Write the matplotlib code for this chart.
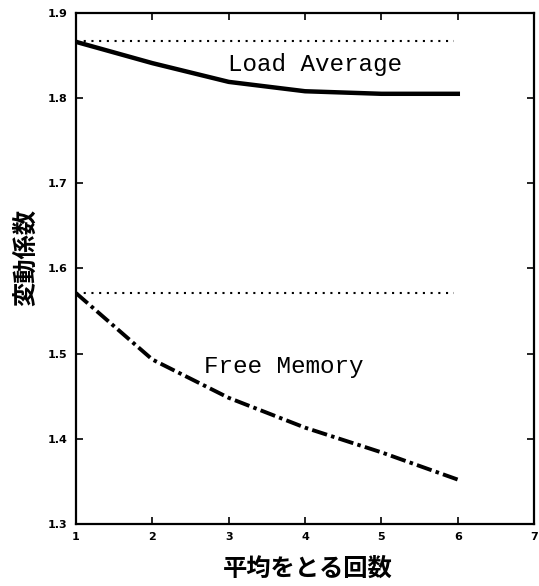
import matplotlib
matplotlib.use("Agg")
import matplotlib.pyplot as plt

plt.rcParams["font.family"] = ["Noto Sans CJK JP", "DejaVu Sans"]

# data
n_avg = [1, 2, 3, 4, 5, 6]
load_avg = [1.866, 1.841, 1.819, 1.808, 1.805, 1.805]
free_mem = [1.571, 1.493, 1.448, 1.413, 1.384, 1.352]
load_ref = 1.867
mem_ref = 1.571
ref_span = [1, 5.95]

xticks = [1, 2, 3, 4, 5, 6, 7]
yticks = [1.3, 1.4, 1.5, 1.6, 1.7, 1.8, 1.9]

fig = plt.figure(figsize=(5.39, 5.86), dpi=100)
ax = fig.add_axes([0.141, 0.106, 0.85, 0.872])

ax.plot(ref_span, [load_ref, load_ref], color="black", lw=1.5, ls=(0, (1, 2.7)))
ax.plot(ref_span, [mem_ref, mem_ref], color="black", lw=1.5, ls=(0, (1, 2.7)))
ax.plot(n_avg, load_avg, color="black", lw=3.2)
ax.plot(n_avg, free_mem, color="black", lw=2.8, ls=(0, (4, 1.1, 0.9, 1.1)))

ax.text(4.13, 1.839, "Load Average", family="Liberation Mono", fontsize=17.5,
        ha="center", va="center")
ax.text(3.72, 1.485, "Free Memory", family="Liberation Mono", fontsize=17.5,
        ha="center", va="center")

ax.set_xlim(1, 7)
ax.set_ylim(1.3, 1.9)
ax.set_xticks(xticks)
ax.set_yticks(yticks)
ax.set_xticklabels([str(v) for v in xticks], fontsize=8, fontweight="bold",
                   family="DejaVu Sans")
ax.set_yticklabels([f"{v:.1f}" for v in yticks], fontsize=8, fontweight="bold",
                   family="DejaVu Sans")
ax.tick_params(direction="in", top=True, right=True, length=5, width=1.2, pad=6)
for s in ax.spines.values():
    s.set_linewidth(1.6)

fig.text(308 / 539, 1 - 569 / 586, "平均をとる回数", fontsize=17.5,
         fontweight="bold", ha="center", va="center")
fig.text(26 / 539, 1 - 258 / 586, "変動係数", fontsize=17.5, fontweight="bold",
         rotation=90, ha="center", va="center")

fig.savefig("out.png", dpi=100)
